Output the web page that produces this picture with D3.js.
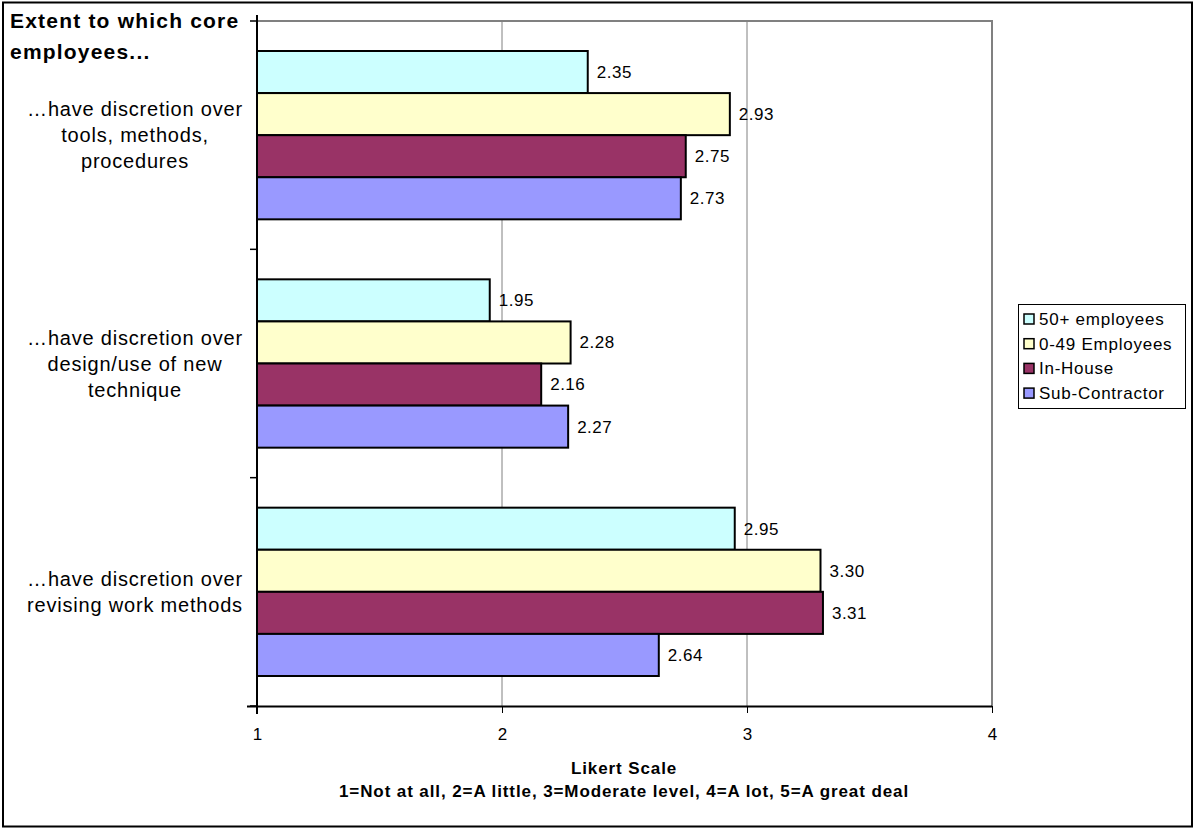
<!DOCTYPE html>
<html>
<head>
<meta charset="utf-8">
<script src="https://cdn.jsdelivr.net/npm/d3@7"></script>
<style>
  html, body { margin: 0; padding: 0; background: #fff; }
  svg { display: block; font-family: Arial, "Liberation Sans", sans-serif; }
</style>
</head>
<body>
<svg id="chart" width="1194" height="828"></svg>
<script>
// Survey items (top to bottom) and their wrapped label lines
const categories = [
  "…have discretion over tools, methods, procedures",
  "…have discretion over design/use of new technique",
  "…have discretion over revising work methods"
];
const categoryLines = [
  ["…have discretion over", "tools, methods,", "procedures"],
  ["…have discretion over", "design/use of new", "technique"],
  ["…have discretion over", "revising work methods"]
];

// Series, in drawing order within each group
const seriesNames = ["50+ employees", "0-49 Employees", "In-House", "Sub-Contractor"];
const seriesColors = ["#CCFFFF", "#FFFFCC", "#993366", "#9999FF"];

// Mean Likert scores per series, one per category
const values50Plus = [2.35, 1.95, 2.95];
const values0to49 = [2.93, 2.28, 3.30];
const valuesInHouse = [2.75, 2.16, 3.31];
const valuesSubContractor = [2.73, 2.27, 2.64];

const xTicks = [1, 2, 3, 4];

const seriesValues = [values50Plus, values0to49, valuesInHouse, valuesSubContractor];

const svg = d3.select("#chart");

// Outer chart frame
svg.append("rect")
  .attr("x", 3).attr("y", 2.5)
  .attr("width", 1189).attr("height", 824)
  .attr("fill", "#fff").attr("stroke", "#000").attr("stroke-width", 2);

const plot = { left: 257, right: 992, top: 21, bottom: 706 };

const x = d3.scaleLinear().domain([1, 4]).range([plot.left, plot.right]);
const yBand = d3.scaleBand().domain(categories).range([plot.top, plot.bottom]).paddingInner(0).paddingOuter(0);
const barPad = 30;
const ySeries = d3.scaleBand().domain(seriesNames)
  .range([0, yBand.bandwidth() - 2 * barPad]).padding(0);

// Vertical gridlines
svg.append("g").selectAll("line")
  .data(xTicks.filter(t => t > 1))
  .join("line")
  .attr("x1", d => x(d)).attr("x2", d => x(d))
  .attr("y1", plot.top).attr("y2", plot.bottom)
  .attr("stroke", "#808080").attr("stroke-width", 1);

// Plot area border (top and right)
svg.append("path")
  .attr("d", `M${plot.left},${plot.top}H${plot.right}V${plot.bottom}`)
  .attr("fill", "none").attr("stroke", "#808080").attr("stroke-width", 2);

// Bars
const rows = [];
categories.forEach((c, ci) => {
  seriesNames.forEach((s, si) => {
    rows.push({ cat: c, series: s, si, value: seriesValues[si][ci] });
  });
});

const bars = svg.append("g");
bars.selectAll("rect")
  .data(rows)
  .join("rect")
  .attr("x", x(1))
  .attr("y", d => yBand(d.cat) + barPad + ySeries(d.series))
  .attr("width", d => x(d.value) - x(1))
  .attr("height", ySeries.bandwidth())
  .attr("fill", d => seriesColors[d.si])
  .attr("stroke", "#000").attr("stroke-width", 2);

// Value labels
svg.append("g").selectAll("text")
  .data(rows)
  .join("text")
  .attr("x", d => x(d.value) + 9)
  .attr("y", d => yBand(d.cat) + barPad + ySeries(d.series) + ySeries.bandwidth() / 2)
  .attr("dy", "0.35em")
  .attr("font-size", 17)
  .attr("letter-spacing", 0.5)
  .attr("fill", "#000")
  .text(d => d.value.toFixed(2));

// X axis
const xAxis = svg.append("g")
  .attr("transform", `translate(0,${plot.bottom})`)
  .call(d3.axisBottom(x).tickValues(xTicks).tickFormat(d3.format("d")).tickSize(7).tickPadding(15));
xAxis.select(".domain").attr("stroke", "#000").attr("stroke-width", 2)
  .attr("d", `M${plot.left - 10},0.5H${plot.right}`);
xAxis.selectAll(".tick line").attr("stroke", "#000");
xAxis.selectAll(".tick text").attr("font-size", 17).attr("fill", "#000")
  .attr("font-family", "Arial, 'Liberation Sans', sans-serif");

// Y axis: line with tick marks at group boundaries
svg.append("line")
  .attr("x1", plot.left).attr("x2", plot.left)
  .attr("y1", plot.top - 6).attr("y2", plot.bottom + 8)
  .attr("stroke", "#000").attr("stroke-width", 2);
const boundaries = categories.map(c => yBand(c)).concat([plot.bottom]);
svg.append("g").selectAll("line")
  .data(boundaries)
  .join("line")
  .attr("x1", plot.left - 7).attr("x2", plot.left)
  .attr("y1", d => d).attr("y2", d => d)
  .attr("stroke", "#000").attr("stroke-width", 1.5);

// Category labels
const catG = svg.append("g");
categories.forEach((c, ci) => {
  const lines = categoryLines[ci];
  const lh = 26;
  const cy = yBand(c) + yBand.bandwidth() / 2;
  const y0 = cy - (lines.length - 1) * lh / 2;
  catG.append("text")
    .attr("text-anchor", "middle")
    .attr("font-size", 20)
    .attr("letter-spacing", 0.8)
    .attr("fill", "#000")
    .selectAll("tspan")
    .data(lines)
    .join("tspan")
    .attr("x", 135)
    .attr("y", (d, i) => y0 + i * lh)
    .attr("dy", "0.35em")
    .text(d => d);
});

// Vertical axis title
svg.append("text")
  .attr("font-size", 21).attr("font-weight", "bold").attr("fill", "#000")
  .attr("letter-spacing", 1.2)
  .selectAll("tspan")
  .data(["Extent to which core", "employees..."])
  .join("tspan")
  .attr("x", 10)
  .attr("y", (d, i) => 28 + i * 31)
  .text(d => d);

// Horizontal axis title
svg.append("text")
  .attr("text-anchor", "middle")
  .attr("font-size", 17).attr("font-weight", "bold").attr("fill", "#000")
  .attr("letter-spacing", 0.9)
  .selectAll("tspan")
  .data(["Likert Scale", "1=Not at all, 2=A little, 3=Moderate level, 4=A lot, 5=A great deal"])
  .join("tspan")
  .attr("x", 624)
  .attr("y", (d, i) => 774 + i * 23)
  .text(d => d);

// Legend
const legend = svg.append("g");
legend.append("rect")
  .attr("x", 1018.5).attr("y", 304.5).attr("width", 167).attr("height", 104)
  .attr("fill", "#fff").attr("stroke", "#000").attr("stroke-width", 1);
const items = legend.selectAll("g.item")
  .data(seriesNames)
  .join("g")
  .attr("class", "item")
  .attr("transform", (d, i) => `translate(1024,${319 + i * 24.7})`);
items.append("rect")
  .attr("x", 0).attr("y", -5).attr("width", 10).attr("height", 10)
  .attr("fill", (d, i) => seriesColors[i])
  .attr("stroke", "#000").attr("stroke-width", 1.5);
items.append("text")
  .attr("x", 15).attr("dy", "0.35em")
  .attr("font-size", 17).attr("letter-spacing", 0.75).attr("fill", "#000")
  .text(d => d);
</script>
</body>
</html>
